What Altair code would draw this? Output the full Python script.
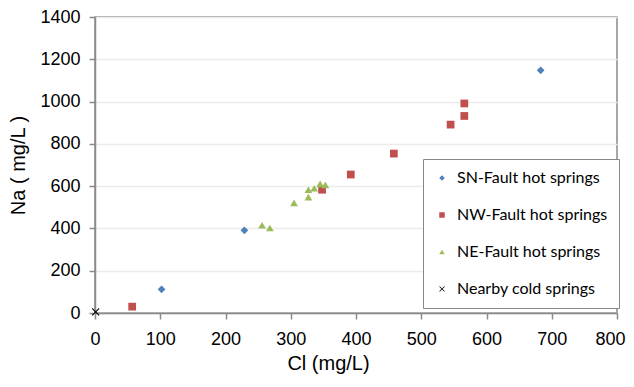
import altair as alt
import pandas as pd

groups = ["SN-Fault hot springs", "NW-Fault hot springs", "NE-Fault hot springs", "Nearby cold springs"]

sn_cl = [102, 229, 683]
sn_na = [112, 391, 1148]

nw_cl = [57, 348, 392, 458, 545, 566, 566]
nw_na = [30, 583, 655, 754, 891, 932, 991]

ne_cl = [256, 268, 305, 327, 327, 336, 345, 353]
ne_na = [415, 402, 521, 548, 583, 590, 611, 606]

cold_cl = [1]
cold_na = [5]

rows = []
for g, xs, ys in zip(groups, [sn_cl, nw_cl, ne_cl, cold_cl], [sn_na, nw_na, ne_na, cold_na]):
    for x, y in zip(xs, ys):
        rows.append({"group": g, "Cl": x, "Na": y})
df = pd.DataFrame(rows)

xshape = "M-1,-0.8L-0.8,-1L0,-0.2L0.8,-1L1,-0.8L0.2,0L1,0.8L0.8,1L0,0.2L-0.8,1L-1,0.8L-0.2,0Z"

chart = alt.Chart(df).mark_point(filled=True, opacity=1, size=60).encode(
    x=alt.X("Cl:Q", title="Cl (mg/L)",
            scale=alt.Scale(domain=[0, 800], nice=False, zero=True),
            axis=alt.Axis(values=list(range(0, 801, 100)), grid=False, format="d",
                          labelFlush=False, titleX=233, titleAlign="center",
                          labelAlign={"condition": {"test": "datum.value == 800", "value": "right"},
                                      "value": "center"},
                          labelOffset={"condition": {"test": "datum.value == 800", "value": 8},
                                       "value": 0})),
    y=alt.Y("Na:Q", title="Na ( mg/L )",
            scale=alt.Scale(domain=[0, 1400], nice=False),
            axis=alt.Axis(values=list(range(0, 1401, 200)), format="d", labelFlush=False)),
    color=alt.Color("group:N", scale=alt.Scale(domain=groups,
                    range=["#4F81BD", "#C0504D", "#9BBB59", "#000000"]),
                    legend=alt.Legend(title=None, orient="none", legendX=328, legendY=142,
                                      strokeColor="#888888", padding=11,
                                      labelFontSize=16, labelFont="Lato", labelColor="#000000",
                                      rowPadding=21, symbolSize=30, labelOffset=7,
                                      fillColor="white")),
    shape=alt.Shape("group:N", scale=alt.Scale(domain=groups,
                    range=["diamond", "square", "triangle-up", xshape]),
                    legend=None),
).properties(
    width=522, height=296,
    padding={"left": 87, "top": 9, "right": 9, "bottom": 66},
    autosize=alt.AutoSizeParams(type="none"),
).configure_view(
    stroke="#8a8a8a", strokeWidth=1.5
).configure_axis(
    domainColor="#8a8a8a", domainWidth=1.5, tickColor="#8a8a8a", tickWidth=1.5, tickSize=6,
    gridColor="#ebebeb", gridWidth=1.5,
    labelFont="Liberation Sans", labelFontSize=18, labelColor="#000000",
    titleFont="Liberation Sans", titleFontSize=20, titleFontWeight="normal", titleColor="#000000",
).configure_axisY(
    labelPadding=9, titlePadding=11
).configure_axisX(
    labelPadding=11, titlePadding=5
)

chart.save("out.html", embed_options={"renderer": "svg", "actions": False})
